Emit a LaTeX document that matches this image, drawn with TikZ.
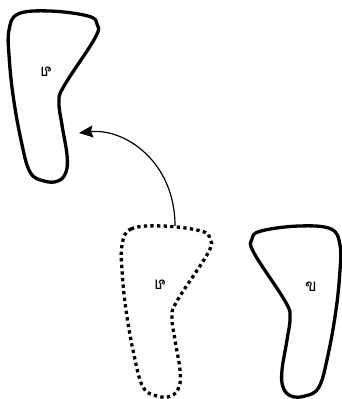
\documentclass[tikz,border=0pt]{standalone}
\usepackage{fontspec}
\newfontfamily\thaifont[Script=Thai]{Loma}
\usetikzlibrary{arrows.meta}

\newcommand{\footpath}{plot[smooth cycle, tension=0.65] coordinates {
    (9,30) (18,14) (50,11) (88,16) (97,24) (95,38) (64,86) (59,102)
    (62,125) (67,155) (66,172) (58,181) (44,181) (30,172) (21,140)
    (13,95) (9,55)}}

\begin{document}
\begin{tikzpicture}[
    x=1pt, y=-1pt,
    outline/.style={draw=black, line width=3.3pt, line join=round},
    dotline/.style={draw=black, line width=3.3pt, dash pattern=on 3.3pt off 3.3pt},
    arrow/.style={-{Stealth[length=14pt, width=12pt, inset=2pt]}, line width=1.2pt},
    letter/.style={font=\thaifont\fontsize{17}{17}\selectfont},
]
\useasboundingbox (0,0) rectangle (341,399);

% moved shape (top left)
\draw[outline] \footpath;
\node[letter] (movedtxt) at (46,72) {\reflectbox{ข}};

% reflected shape (dotted)
\begin{scope}[shift={(113,215)}]
  \draw[dotline] \footpath;
  \coordinate (dtop) at (62,11);
\end{scope}
\node[letter] (dottxt) at (160,285) {\reflectbox{ข}};

% original shape (right)
\begin{scope}[shift={(462,0)}, xscale=-1]
  \begin{scope}[shift={(113,215)}]
    \draw[outline] \footpath;
  \end{scope}
\end{scope}
\node[letter] (origtxt) at (311,287) {ข};

% translation arrow
\coordinate (tip) at (79,133);
\draw[arrow] (dtop) .. controls ++(0,-65) and ++(45,-5) .. (tip);
\end{tikzpicture}
\end{document}
